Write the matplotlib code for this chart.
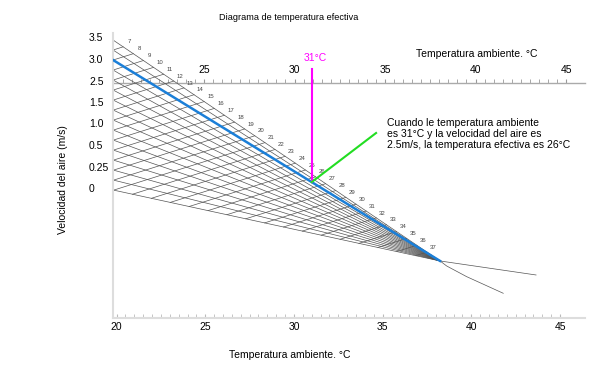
import matplotlib.pyplot as plt
import numpy as np
from matplotlib.ticker import FixedLocator

plt.rcParams['font.family'] = ['Liberation Sans', 'DejaVu Sans']

# nomogram geometry: x = ambient temperature (bottom scale), y = chart units
left_T = 19.8
conv_T, conv_y = 38.24, 5.7            # all velocity lines meet here
left_y = np.linspace(27.8, 12.8, 16)   # origins of the lines on the left edge
eff_temps = np.arange(7, 38)           # effective temperature labels 7..37
eff_lo, eff_hi = 6.0, 38.3             # ET at the top-left corner / at the meeting point
et_slope = 0.557                       # rise of effective temperature lines

vel_labels = ['3.5', '3.0', '2.5', '1.5', '1.0', '0.5', '0.25', '0']
vel_y = [28.1, 25.9, 23.7, 21.6, 19.5, 17.3, 15.1, 13.0]

tail_flat_T = [38.24, 43.65]
tail_flat_y = [5.7, 4.3]
tail_curve_T = [38.24, 38.61, 39.74, 41.80]
tail_curve_y = [5.7, 5.2, 4.13, 2.47]

ambient = 31.0
blue_idx = 2                           # the 3.0 m/s line
magenta_top = 24.9
green_end_T, green_end_y = 34.63, 18.5


def to_top(b):
    return 25 + (b - 24.932) / 1.0203


def to_bottom(t):
    return 24.932 + (t - 25) * 1.0203


fig = plt.figure(figsize=(6.07, 3.81), dpi=100)
ax = fig.add_axes([0.1862, 0.1654, 0.7776, 0.748])
ax.set_xlim(19.8, 46.41)
ax.set_ylim(0, 28.5)

grid_kw = dict(color='#555555', lw=0.5, zorder=2)

# velocity lines fanning to the meeting point
for y0 in left_y:
    ax.plot([left_T, conv_T], [y0, conv_y], **grid_kw)

# effective temperature lines
A = np.array([left_T, left_y[0]])
B = np.array([left_T, left_y[-1]])
C = np.array([conv_T, conv_y])
m_bc = (C[1] - B[1]) / (C[0] - B[0])
for k in eff_temps:
    f = (k - eff_lo) / (eff_hi - eff_lo)
    P = A + f * (C - A)
    y_left = P[1] - et_slope * (P[0] - left_T)
    if y_left >= B[1]:
        S = (left_T, y_left)
    else:
        T = (B[1] - m_bc * left_T - P[1] + et_slope * P[0]) / (et_slope - m_bc)
        S = (T, B[1] + m_bc * (T - left_T))
    ax.plot([S[0], P[0]], [S[1], P[1]], **grid_kw)
    ax.annotate(str(k), (P[0], P[1]), xytext=(4.5, 3.5), textcoords='offset points',
                ha='center', va='center', fontsize=4.3, color='#444444')

ax.plot(tail_flat_T, tail_flat_y, **grid_kw)
ax.plot(tail_curve_T, tail_curve_y, **grid_kw)

# highlighted 3.0 m/s line
ax.plot([left_T, conv_T], [left_y[blue_idx], conv_y], color='#1b7fd8', lw=1.8, zorder=3)

blue_at = left_y[blue_idx] + (conv_y - left_y[blue_idx]) * (ambient - left_T) / (conv_T - left_T)
ax.plot([ambient, ambient], [magenta_top, blue_at], color='#ff00ff', lw=1.5, zorder=4)
ax.annotate('31°C', (ambient, magenta_top), xytext=(2.5, 8), textcoords='offset points',
            ha='center', va='center', fontsize=7.5, color='#ff00ff')
ax.plot([ambient, green_end_T], [blue_at, green_end_y], color='#22dd22', lw=1.5, zorder=4)
ax.text(35.25, 18.4, 'Cuando le temperatura ambiente\nes 31°C y la velocidad del aire es\n'
        '2.5m/s, la temperatura efectiva es 26°C', ha='left', va='center',
        fontsize=7.5, linespacing=1.1)

# axes styling
for s in ['top', 'right']:
    ax.spines[s].set_visible(False)
for s in ['left', 'bottom']:
    ax.spines[s].set_color('#dddddd')
    ax.spines[s].set_linewidth(1.5)

ax.set_xticks([20, 25, 30, 35, 40, 45])
ax.xaxis.set_minor_locator(FixedLocator(np.arange(20, 45.01, 0.5)))
ax.tick_params(axis='x', which='both', direction='in', length=3, color='#bbbbbb',
               labelsize=7.5, pad=3)

ax.set_yticks(vel_y, vel_labels)
ax.tick_params(axis='y', length=0, pad=17.3, labelsize=7.5)
for lab in ax.get_yticklabels():
    lab.set_horizontalalignment('left')

ax.set_xlabel('Temperatura ambiente. °C', fontsize=7.5)
ax.xaxis.set_label_coords(0.375, -0.112)
ax.set_ylabel('Velocidad del aire (m/s)', fontsize=7.5)
ax.yaxis.set_label_coords(-0.095, 0.484)

# second temperature scale across the chart
top = ax.secondary_xaxis(0.8246, functions=(to_top, to_bottom))
top.set_xticks([25, 30, 35, 40, 45])
top.xaxis.set_minor_locator(FixedLocator(np.arange(20.5, 45.01, 0.5)))
top.tick_params(which='both', direction='out', length=3, color='#999999',
                labelsize=7.5, pad=3)
for s in ['top', 'bottom']:
    top.spines[s].set_color('#aaaaaa')
    top.spines[s].set_linewidth(1.0)

ax.text(0.771, 0.926, 'Temperatura ambiente. °C', transform=ax.transAxes,
        ha='center', va='center', fontsize=7.5)
fig.text(289 / 607, 1 - 17.5 / 381, 'Diagrama de temperatura efectiva',
         ha='center', va='center', fontsize=6.6)

fig.savefig('out.png', dpi=100)
